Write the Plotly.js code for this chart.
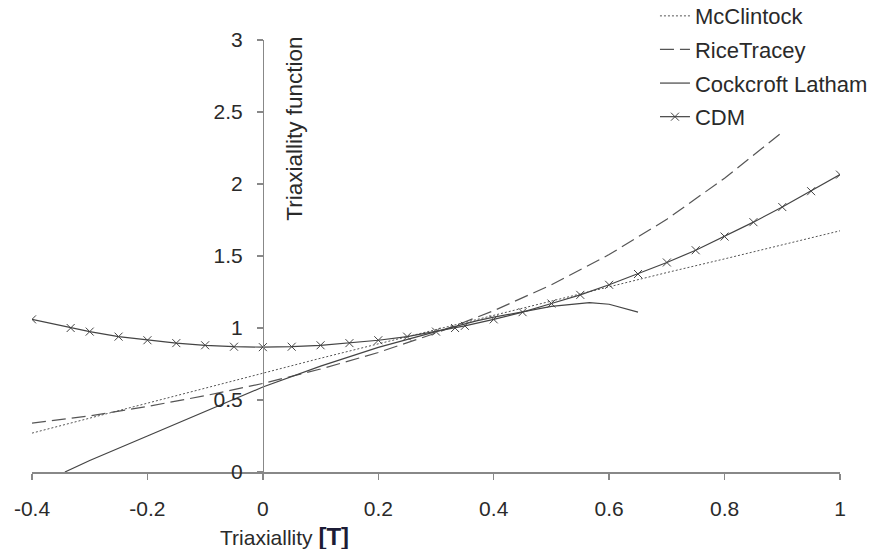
<!DOCTYPE html>
<html>
<head>
<meta charset="utf-8">
<script src="https://cdn.plot.ly/plotly-3.0.1.min.js"></script>
<style>html,body{margin:0;padding:0;background:#fff;}#chart{width:873px;height:549px;}</style>
</head>
<body>
<div id="chart"></div>
<script>
// Triaxiality values [T]
const mcX = [-0.4, -0.3, -0.2, -0.1, 0, 0.1, 0.2, 0.3, 0.4, 0.5, 0.6, 0.7, 0.8, 0.9, 1.0];
const mcY = [0.27, 0.375, 0.48, 0.585, 0.69, 0.79, 0.89, 0.99, 1.09, 1.19, 1.29, 1.385, 1.48, 1.58, 1.675];

const rtX = [-0.4, -0.3, -0.2, -0.1, 0, 0.1, 0.2, 0.3, 0.4, 0.5, 0.6, 0.7, 0.8, 0.9];
const rtY = [0.34, 0.39, 0.455, 0.53, 0.615, 0.715, 0.83, 0.965, 1.12, 1.3, 1.51, 1.755, 2.04, 2.36];

const clX = [-0.343, -0.3, -0.2, -0.1, 0, 0.1, 0.2, 0.3, 0.37, 0.4, 0.5, 0.566, 0.6, 0.65];
const clY = [0, 0.08, 0.25, 0.42, 0.59, 0.735, 0.865, 0.975, 1.05, 1.075, 1.15, 1.176, 1.165, 1.11];

const cdmX = [-0.4, -0.333, -0.3, -0.25, -0.2, -0.15, -0.1, -0.05, 0, 0.05, 0.1, 0.15, 0.2, 0.25, 0.3, 0.333, 0.35, 0.4, 0.45, 0.5, 0.55, 0.6, 0.65, 0.7, 0.75, 0.8, 0.85, 0.9, 0.95, 1.0];
const cdmY = [1.06, 1.0, 0.975, 0.94, 0.915, 0.895, 0.88, 0.87, 0.867, 0.87, 0.88, 0.895, 0.915, 0.94, 0.975, 1.0, 1.015, 1.06, 1.11, 1.17, 1.23, 1.3, 1.375, 1.455, 1.54, 1.635, 1.735, 1.84, 1.95, 2.065];

const names = ["McClintock", "RiceTracey", "Cockcroft Latham", "CDM"];
const xTicks = [-0.4, -0.2, 0, 0.2, 0.4, 0.6, 0.8, 1];
const xTickText = ["-0.4", "-0.2", "0", "0.2", "0.4", "0.6", "0.8", "1"];
const yTicks = [0, 0.5, 1, 1.5, 2, 2.5, 3];
const yTickText = ["0", "0.5", "1", "1.5", "2", "2.5", "3"];

const FONT = "Liberation Sans, Arial, sans-serif";

const traces = [
  {x: mcX, y: mcY, name: names[0], mode: "lines", legendgroup: "a",
   line: {color: "#555", width: 1, dash: "2px,2px"}},
  {x: rtX, y: rtY, name: names[1], mode: "lines", legendgroup: "b",
   line: {color: "#555", width: 1.2, dash: "14px,6px"}},
  {x: clX, y: clY, name: names[2], mode: "lines", legendgroup: "c", line: {color: "#444", width: 1.2}},
  {x: cdmX, y: cdmY, name: names[3], mode: "lines+markers", legendgroup: "d",
   line: {color: "#444", width: 1.2},
   marker: {symbol: "x-thin", size: 8, line: {color: "#444", width: 1}, color: "#444"}}
];

const layout = {
  width: 873, height: 549,
  margin: {l: 32, r: 33, t: 40, b: 77, pad: 0, autoexpand: false},
  paper_bgcolor: "#fff", plot_bgcolor: "#fff",
  font: {family: FONT, size: 21, color: "#2a2a2a"},
  showlegend: true,
  legend: {x: 0.771, y: 1.104, xanchor: "left", yanchor: "top", bgcolor: "rgba(0,0,0,0)",
           font: {family: FONT, size: 22, color: "#2a2a2a"}, tracegroupgap: 2, itemwidth: 30},
  xaxis: {range: [-0.4, 1], tickvals: xTicks, ticktext: xTickText, showgrid: false, zeroline: false,
          showline: true, linecolor: "#888", linewidth: 1.5, ticks: "outside", ticklen: 6,
          tickcolor: "#888", tickwidth: 1.5, ticklabelstandoff: 11,
          tickfont: {family: FONT, size: 21, color: "#2a2a2a"}, fixedrange: true},
  yaxis: {range: [0, 3], tickvals: yTicks, ticktext: yTickText, showgrid: false, zeroline: false,
          anchor: "free", position: 0.4 / 1.4, showline: true, linecolor: "#888", linewidth: 1.5,
          ticks: "outside", ticklen: 6, tickcolor: "#888", tickwidth: 1.5, ticklabelstandoff: 10,
          tickfont: {family: FONT, size: 21, color: "#2a2a2a"}, fixedrange: true},
  annotations: [
    {text: "Triaxiallity function", textangle: -90, xref: "paper", yref: "paper",
     x: 0.3255, y: 1.01, xanchor: "center", yanchor: "top", showarrow: false, borderpad: 0,
     font: {family: FONT, size: 22.5, color: "#2a2a2a"}},
    {text: "Triaxiallity <b><span style=\"font-size:24px;color:#1c1c36\">[T]</span></b>", xref: "paper", yref: "paper",
     x: 0.312, y: -0.15, xanchor: "center", yanchor: "middle", showarrow: false,
     font: {family: FONT, size: 21, color: "#2a2a2a"}}
  ]
};

Plotly.newPlot("chart", traces, layout, {displayModeBar: false, staticPlot: true});
</script>
</body>
</html>
